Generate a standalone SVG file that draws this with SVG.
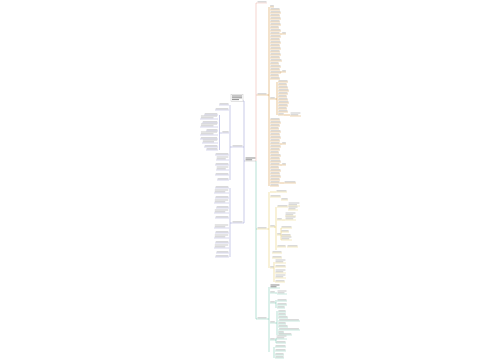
<svg xmlns="http://www.w3.org/2000/svg" xmlns:xlink="http://www.w3.org/1999/xlink" width="500" height="360" viewBox="0 0 500 360">
<style>
.tb{fill:#cacaca;stroke:none}
.dk{fill:#8d8d8d;stroke:none}
.c{fill:none;stroke-width:.6}
.pk{stroke:#efb9b0;color:#efb9b0}
.or{stroke:#d9a050;color:#d9a050}
.ye{stroke:#e9d27a;color:#e9d27a}
.te{stroke:#86cdb8;color:#86cdb8}
.bl{stroke:#a4a7d8;color:#a4a7d8}
.ul{fill:none;stroke:currentColor;stroke-width:.45}
</style>
<defs>
<g id="u"><rect class="tb" x=".05" y="-1.7" width=".9" height="1.1"/><path class="ul" d="M0 0h1"/></g>
<g id="u2"><rect class="tb" x=".05" y="-3.5" width=".9" height="1"/><rect class="tb" x=".05" y="-1.7" width=".7" height="1"/><path class="ul" d="M0 0h1"/></g>
<g id="ud"><rect class="dk" x=".05" y="-3.5" width=".9" height="1"/><rect class="dk" x=".05" y="-1.7" width=".6" height="1"/><path class="ul" d="M0 0h1"/></g>
</defs>
<rect width="500" height="360" fill="#fff"/>

<g id="connectors" class="c">
<path class="pk" d="M256 161V3h1M256 95h1"/>
<path class="te" d="M256 161V319h1M256 229h1"/>
<path class="bl" d="M245 161h-1M244 101V223M244 101h-1M244 147h-1M244 223h-1"/>
<path class="or" d="M267 95h2M269 7V186M275 99h2M277 82V115M284 115h6M280 34h2M280 72h2M280 144h2M280 165h2M280 183h4"/>
<path class="ye" d="M267 229h2M269 192V268M274 227h2M276 207V250M282 220h3M281 228V240M274 262V282M270 192h6"/>
<path class="te" d="M267 319h2M269 287V352M275 293h2M275 303h1M276 300V308M275 323h2M277 311V335M275 340h1M276 338V343M274 347V358"/>
<path class="bl" d="M232 147h-2M230 105V180M222 133h-2.5M219.5 115V150M232 223h-2M230 188V257"/>
</g>

<g id="root"><use href="#ud" transform="translate(245 161) scale(11 1)" style="color:#b9b9b9"/></g>

<g id="branch1" class="pk"><use href="#u" transform="translate(257 3) scale(10 1)"/></g>

<g id="branch2" class="or">
<use href="#u" transform="translate(257 95) scale(10 1)"/>
<g id="b2-leaves">
<use href="#u" transform="translate(270 7) scale(4 1)"/>
<use href="#u" transform="translate(270 10) scale(10 1)"/>
<use href="#u" transform="translate(270 13) scale(11 1)"/>
<use href="#u" transform="translate(270 16) scale(10 1)"/>
<use href="#u" transform="translate(270 19) scale(11 1)"/>
<use href="#u" transform="translate(270 22) scale(10 1)"/>
<use href="#u" transform="translate(270 25) scale(11 1)"/>
<use href="#u" transform="translate(270 28) scale(9 1)"/>
<use href="#u" transform="translate(270 31) scale(11 1)"/>
<use href="#u" transform="translate(270 34) scale(10 1)"/>
<use href="#u" transform="translate(270 37) scale(11 1)"/>
<use href="#u" transform="translate(270 40) scale(10 1)"/>
<use href="#u" transform="translate(270 43) scale(11 1)"/>
<use href="#u" transform="translate(270 46) scale(10 1)"/>
<use href="#u" transform="translate(270 49) scale(11 1)"/>
<use href="#u" transform="translate(270 52) scale(10 1)"/>
<use href="#u" transform="translate(270 55) scale(11 1)"/>
<use href="#u" transform="translate(270 58) scale(10 1)"/>
<use href="#u" transform="translate(270 61) scale(12 1)"/>
<use href="#u" transform="translate(270 64) scale(9 1)"/>
<use href="#u" transform="translate(270 67) scale(11 1)"/>
<use href="#u" transform="translate(270 70) scale(10 1)"/>
<use href="#u" transform="translate(270 73) scale(11 1)"/>
<use href="#u" transform="translate(270 76) scale(9 1)"/>
<use href="#u" transform="translate(270 79) scale(10 1)"/>
<use href="#u" transform="translate(270 99) scale(5 1)"/>
<use href="#u" transform="translate(278 82) scale(10 1)"/>
<use href="#u" transform="translate(278 85) scale(9 1)"/>
<use href="#u" transform="translate(278 88) scale(10 1)"/>
<use href="#u" transform="translate(278 91) scale(11 1)"/>
<use href="#u" transform="translate(278 94) scale(10 1)"/>
<use href="#u" transform="translate(278 97) scale(9 1)"/>
<use href="#u" transform="translate(278 100) scale(10 1)"/>
<use href="#u" transform="translate(278 103) scale(11 1)"/>
<use href="#u" transform="translate(278 106) scale(10 1)"/>
<use href="#u" transform="translate(278 109) scale(9 1)"/>
<use href="#u" transform="translate(278 112) scale(10 1)"/>
<use href="#u" transform="translate(278 115) scale(6 1)"/>
<use href="#u2" transform="translate(290 116) scale(11 1)"/>
<use href="#u" transform="translate(270 120) scale(10 1)"/>
<use href="#u" transform="translate(270 123) scale(11 1)"/>
<use href="#u" transform="translate(270 126) scale(10 1)"/>
<use href="#u" transform="translate(270 129) scale(9 1)"/>
<use href="#u" transform="translate(270 132) scale(11 1)"/>
<use href="#u" transform="translate(270 135) scale(10 1)"/>
<use href="#u" transform="translate(270 138) scale(11 1)"/>
<use href="#u" transform="translate(270 141) scale(10 1)"/>
<use href="#u" transform="translate(270 144) scale(10 1)"/>
<use href="#u" transform="translate(270 147) scale(11 1)"/>
<use href="#u" transform="translate(270 150) scale(10 1)"/>
<use href="#u" transform="translate(270 153) scale(9 1)"/>
<use href="#u" transform="translate(270 156) scale(11 1)"/>
<use href="#u" transform="translate(270 159) scale(10 1)"/>
<use href="#u" transform="translate(270 162) scale(11 1)"/>
<use href="#u" transform="translate(270 165) scale(10 1)"/>
<use href="#u" transform="translate(270 168) scale(9 1)"/>
<use href="#u" transform="translate(270 171) scale(11 1)"/>
<use href="#u" transform="translate(270 174) scale(10 1)"/>
<use href="#u" transform="translate(270 177) scale(11 1)"/>
<use href="#u" transform="translate(270 180) scale(10 1)"/>
<use href="#u" transform="translate(270 183) scale(10 1)"/>
<use href="#u" transform="translate(270 186) scale(9 1)"/>
<use href="#u" transform="translate(282 34) scale(4 1)"/>
<use href="#u" transform="translate(282 72) scale(4 1)"/>
<use href="#u" transform="translate(282 144) scale(4 1)"/>
<use href="#u" transform="translate(282 165) scale(4 1)"/>
<use href="#u" transform="translate(284 183) scale(12 1)"/>
</g>
</g>

<g id="branch3" class="ye">
<use href="#u" transform="translate(257 229) scale(10 1)"/>
<g id="b3-leaves">
<use href="#u" transform="translate(276 192) scale(11 1)"/>
<use href="#u" transform="translate(270 197) scale(11 1)"/>
<use href="#u" transform="translate(281 200) scale(7 1)"/>
<use href="#u" transform="translate(270 227) scale(5 1)"/>
<use href="#u" transform="translate(277 207) scale(11 1)"/>
<use href="#u2" transform="translate(288 206) scale(12 1)"/>
<use href="#u2" transform="translate(288 210) scale(10 1)"/>
<use href="#u" transform="translate(277 220) scale(5 1)"/>
<use href="#u2" transform="translate(285 216) scale(11 1)"/>
<use href="#u2" transform="translate(285 220) scale(11 1)"/>
<use href="#u" transform="translate(277 235) scale(4 1)"/>
<use href="#u" transform="translate(281 228) scale(11 1)"/>
<use href="#u" transform="translate(281 232) scale(8 1)"/>
<use href="#u" transform="translate(281 236) scale(10 1)"/>
<use href="#u2" transform="translate(281 240) scale(11 1)"/>
<use href="#u" transform="translate(277 247) scale(9 1)"/>
<use href="#u" transform="translate(287 247) scale(11 1)"/>
<use href="#u" transform="translate(272 253) scale(10 1)"/>
<use href="#u" transform="translate(272 258) scale(10 1)"/>
<use href="#u" transform="translate(270 268) scale(4 1)"/>
<use href="#u2" transform="translate(275 263) scale(11 1)"/>
<use href="#u" transform="translate(275 267) scale(11 1)"/>
<use href="#u2" transform="translate(275 273) scale(11 1)"/>
<use href="#u2" transform="translate(275 278) scale(11 1)"/>
<use href="#u" transform="translate(275 282) scale(10 1)"/>
</g>
</g>

<g id="branch4" class="te">
<use href="#u" transform="translate(257 319) scale(10 1)"/>
<g id="b4-leaves">
<use href="#ud" transform="translate(270 288) scale(10 1)"/>
<use href="#u" transform="translate(270 293) scale(5 1)"/>
<use href="#u2" transform="translate(277 294) scale(10 1)"/>
<use href="#u" transform="translate(270 303) scale(5 1)"/>
<use href="#u" transform="translate(277 301) scale(10 1)"/>
<use href="#u" transform="translate(277 305) scale(10 1)"/>
<use href="#u" transform="translate(277 308) scale(8 1)"/>
<use href="#u" transform="translate(270 323) scale(5 1)"/>
<use href="#u" transform="translate(278 312) scale(8 1)"/>
<use href="#u" transform="translate(278 315) scale(8 1)"/>
<use href="#u" transform="translate(278 318) scale(10 1)"/>
<use href="#u" transform="translate(278 321) scale(22 1)"/>
<use href="#u" transform="translate(278 324) scale(8 1)"/>
<use href="#u" transform="translate(278 327) scale(10 1)"/>
<use href="#u" transform="translate(278 330) scale(22 1)"/>
<use href="#u" transform="translate(278 333) scale(6 1)"/>
<use href="#u" transform="translate(278 335) scale(14 1)"/>
<use href="#u" transform="translate(270 340) scale(5 1)"/>
<use href="#u2" transform="translate(276 339) scale(11 1)"/>
<use href="#u" transform="translate(276 343) scale(10 1)"/>
<use href="#u" transform="translate(275 347) scale(11 1)"/>
<use href="#u" transform="translate(275 351) scale(11 1)"/>
<use href="#u" transform="translate(275 355) scale(9 1)"/>
<use href="#u" transform="translate(275 358) scale(9 1)"/>
</g>
</g>

<g id="left" class="bl">
<g id="nodeA"><rect x="231" y="94.5" width="12" height="7" fill="#fff" stroke="#bbb" stroke-width=".4"/><rect class="dk" x="232" y="95.5" width="10" height="1"/><rect class="dk" x="232" y="97.3" width="10" height="1"/><rect class="dk" x="232" y="99.1" width="7" height="1"/></g>
<g id="nodeB"><use href="#u" transform="translate(232 147) scale(11 1)"/></g>
<g id="nodeC"><use href="#u" transform="translate(232 223) scale(11 1)"/></g>
<g id="left-leaves">
<use href="#u" transform="translate(219 105) scale(10 1)"/>
<use href="#u" transform="translate(215 110) scale(14 1)"/>
<use href="#u" transform="translate(222 133) scale(7 1)"/>
<use href="#u" transform="translate(204 115) scale(14 1)"/>
<use href="#u2" transform="translate(200 119) scale(18 1)"/>
<use href="#u" transform="translate(202 123) scale(16 1)"/>
<use href="#u2" transform="translate(200 127) scale(18 1)"/>
<use href="#u" transform="translate(206 131) scale(12 1)"/>
<use href="#u2" transform="translate(200 135) scale(18 1)"/>
<use href="#u" transform="translate(200 139) scale(18 1)"/>
<use href="#u2" transform="translate(202 143) scale(16 1)"/>
<use href="#u" transform="translate(204 147) scale(14 1)"/>
<use href="#u" transform="translate(206 150) scale(12 1)"/>
<use href="#u" transform="translate(215 155) scale(14 1)"/>
<use href="#u2" transform="translate(216 160) scale(13 1)"/>
<use href="#u" transform="translate(215 165) scale(14 1)"/>
<use href="#u2" transform="translate(216 170) scale(13 1)"/>
<use href="#u" transform="translate(215 175) scale(14 1)"/>
<use href="#u" transform="translate(217 180) scale(12 1)"/>
<use href="#u" transform="translate(215 188) scale(14 1)"/>
<use href="#u2" transform="translate(214 193) scale(15 1)"/>
<use href="#u" transform="translate(215 198) scale(14 1)"/>
<use href="#u2" transform="translate(214 203) scale(15 1)"/>
<use href="#u" transform="translate(216 208) scale(13 1)"/>
<use href="#u2" transform="translate(214 213) scale(15 1)"/>
<use href="#u" transform="translate(215 218) scale(14 1)"/>
<use href="#u2" transform="translate(214 228) scale(15 1)"/>
<use href="#u" transform="translate(215 233) scale(14 1)"/>
<use href="#u2" transform="translate(214 238) scale(15 1)"/>
<use href="#u" transform="translate(215 243) scale(14 1)"/>
<use href="#u2" transform="translate(214 248) scale(15 1)"/>
<use href="#u" transform="translate(216 253) scale(13 1)"/>
<use href="#u" transform="translate(215 257) scale(14 1)"/>
</g>
</g>
</svg>
